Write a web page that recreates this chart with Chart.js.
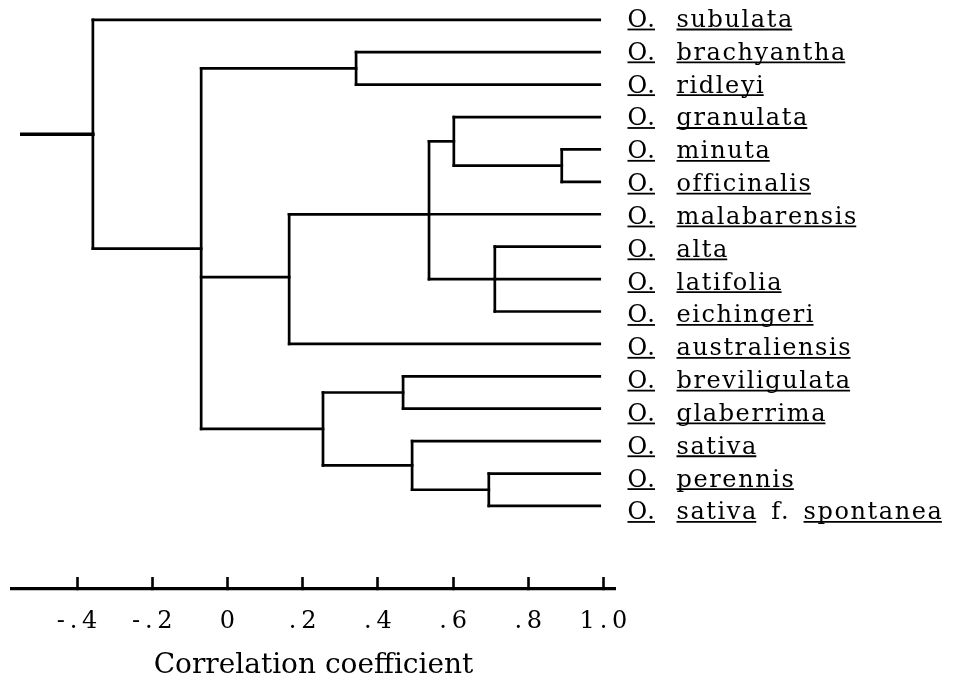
<!DOCTYPE html>
<html>
<head>
<meta charset="utf-8">
<script src="https://cdn.jsdelivr.net/npm/chart.js@4.4.1/dist/chart.umd.min.js"></script>
<style>
body{margin:0;background:#fff}
#wrap{width:954px;height:683px;position:relative}
</style>
</head>
<body>
<div id="wrap"><canvas id="myChart"></canvas></div>
<script>
// leaves, top to bottom
const genus = 'O.'
const species = ['subulata', 'brachyantha', 'ridleyi', 'granulata', 'minuta', 'officinalis',
  'malabarensis', 'alta', 'latifolia', 'eichingeri', 'australiensis', 'breviligulata',
  'glaberrima', 'sativa', 'perennis', 'sativa f. spontanea']

// clusters: correlation level where the members join
const clusterIds = ['c0', 'c1', 'c2', 'c3', 'c4', 'c5', 'c6', 'c7', 'c8', 'c9', 'c10', 'c11']
const clusterLevels = [0.889, 0.602, 0.711, 0.536, 0.164, 0.467, 0.695, 0.491, 0.254, 0.342, -0.070, -0.358]
const clusterChildren = [[4, 5], [3, 'c0'], [7, 8, 9], ['c1', 'c2'], [6, 'c3', 10], [11, 12],
  [14, 15], [13, 'c6'], ['c5', 'c7'], [1, 2], ['c9', 'c4', 'c8'], [0, 'c10']]
const leafLevel = 0.99
const rootLevel = -0.547

const tickValues = [-0.4, -0.2, 0, 0.2, 0.4, 0.6, 0.8, 1.0]
const tickLabels = ['-.4', '-.2', '0', '.2', '.4', '.6', '.8', '1.0']

// node positions (y in leaf-order units)
const nodeY = {}
const nodeX = {}
species.forEach((s, i) => { nodeY[i] = i; nodeX[i] = leafLevel })
clusterIds.forEach((id, k) => {
  const kids = clusterChildren[k]
  const ys = kids.map(c => nodeY[c])
  nodeY[id] = (Math.min(...ys) + Math.max(...ys)) / 2
  nodeX[id] = clusterLevels[k]
})
// a stub that nearly meets a sibling leaf line was drawn on top of it
clusterIds.forEach((id, k) => {
  const kids = clusterChildren[k]
  kids.forEach(c => {
    if (typeof c !== 'string') return
    kids.forEach(o => {
      if (typeof o === 'number' && Math.abs(nodeY[c] - o) < 0.2) nodeY[c] = o
    })
  })
})

const segments = []
clusterIds.forEach((id, k) => {
  const lvl = clusterLevels[k]
  const ys = clusterChildren[k].map(c => nodeY[c])
  segments.push({pts: [{x: lvl, y: Math.min(...ys)}, {x: lvl, y: Math.max(...ys)}], w: 2.7})
  clusterChildren[k].forEach(c => {
    segments.push({pts: [{x: lvl, y: nodeY[c]}, {x: nodeX[c], y: nodeY[c]}], w: 2.7})
  })
})
const topId = clusterIds[clusterIds.length - 1]
segments.push({pts: [{x: rootLevel, y: nodeY[topId]}, {x: nodeX[topId], y: nodeY[topId]}], w: 3.6})

const labelFont = '24px "DejaVu Serif"'

const speciesLabels = {
  id: 'speciesLabels',
  afterDraw(chart) {
    const ctx = chart.ctx
    const xs = chart.scales.x
    const ys = chart.scales.yl
    const x0 = xs.getPixelForValue(1.0) + 24
    ctx.save()
    ctx.fillStyle = '#000'
    ctx.strokeStyle = '#000'
    ctx.font = labelFont
    ctx.letterSpacing = '1.6px'
    ctx.textBaseline = 'alphabetic'
    ctx.lineWidth = 1.8
    const word = (txt, x, y, under) => {
      ctx.fillText(txt, x, y)
      const w = ctx.measureText(txt).width - 1.6
      if (under) {
        ctx.beginPath()
        ctx.moveTo(x, y + 2.5)
        ctx.lineTo(x + w, y + 2.5)
        ctx.stroke()
      }
      return w
    }
    species.forEach((name, i) => {
      const y = ys.getPixelForValue(i)
      word(genus, x0, y, true)
      let x = x0 + 49
      name.split(' ').forEach(w => {
        x += word(w, x, y, w !== 'f.') + 15
      })
    })
    ctx.restore()
  }
}

const chart = new Chart(document.getElementById('myChart'), {
  type: 'scatter',
  data: {
    datasets: segments.map(s => ({
      data: s.pts,
      showLine: true,
      borderColor: '#000',
      borderWidth: s.w,
      borderCapStyle: 'square',
      pointRadius: 0,
      pointHoverRadius: 0
    }))
  },
  options: {
    responsive: true,
    maintainAspectRatio: false,
    animation: false,
    layout: {padding: {left: 12, right: 339, top: 0, bottom: 0}},
    plugins: {legend: {display: false}, tooltip: {enabled: false}},
    scales: {
      x: {
        type: 'linear',
        min: -0.5731,
        max: 1.0306,
        afterBuildTicks: s => { s.ticks = tickValues.map(v => ({value: v})) },
        afterFit: s => { s.height = 94 },
        border: {display: true, color: '#000', width: 3.2},
        grid: {drawOnChartArea: false, drawTicks: true, tickLength: -12, tickWidth: 2.6, tickColor: '#000'},
        ticks: {
          color: '#000',
          font: {family: '"DejaVu Serif"', size: 24},
          padding: 30,
          maxRotation: 0,
          autoSkip: false,
          callback: (v, i) => tickLabels[i].split('').join('\u2009')
        },
        title: {
          display: true,
          text: 'Correlation coefficient',
          color: '#000',
          font: {family: '"DejaVu Serif"', size: 28},
          padding: {top: 0, bottom: 0}
        }
      },
      y: {type: 'linear', reverse: true, min: -0.611, max: 17.563, display: false},
      yl: {type: 'linear', reverse: true, min: -0.822, max: 17.119, display: false}
    }
  },
  plugins: [speciesLabels]
})
</script>
</body>
</html>
